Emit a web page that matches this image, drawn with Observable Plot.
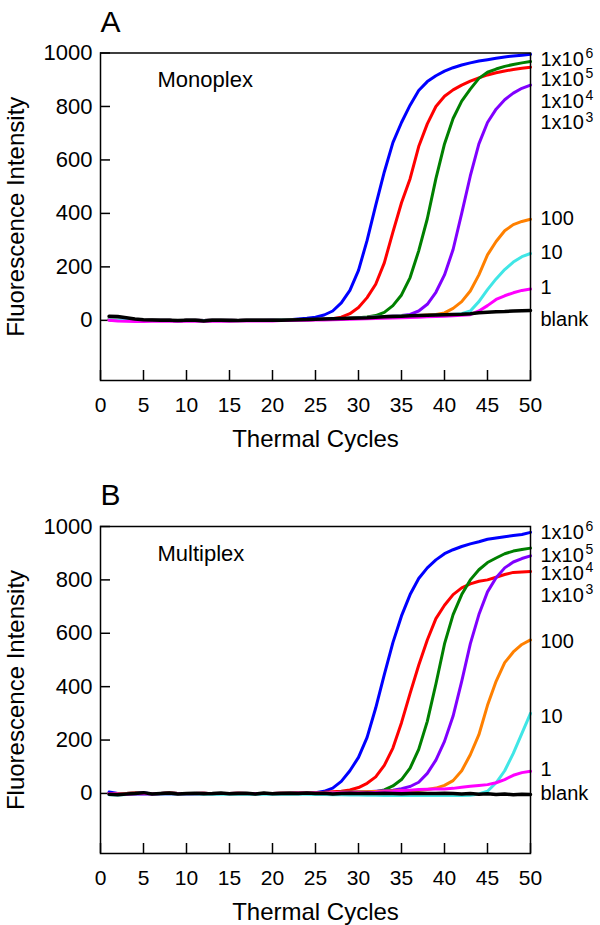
<!DOCTYPE html>
<html>
<head>
<meta charset="utf-8">
<script src="https://cdn.jsdelivr.net/npm/d3@7"></script>
<script src="https://cdn.jsdelivr.net/npm/@observablehq/plot@0.6"></script>
<style>
  body { margin: 0; background: #fff; font-family: "Liberation Sans", Arial, sans-serif; }
  #a, #b { width: 600px; }
  svg { display: block; }
</style>
</head>
<body>
<div id="a"></div>
<div id="b"></div>
<script>
// ---------- DATA ----------
const cycles = [1,2,3,4,5,6,7,8,9,10,11,12,13,14,15,16,17,18,19,20,21,22,23,24,25,26,27,28,29,30,31,32,33,34,35,36,37,38,39,40,41,42,43,44,45,46,47,48,49,50];

const seriesNames = ["1x10^6", "1x10^5", "1x10^4", "1x10^3", "100", "10", "1", "blank"];

// Panel A: Monoplex
const blueA    = [3,1,0,0,-1,0,0,0,-2,0,0,-1,0,0,0,-1,0,0,0,1,1,2,5,8,12,20,35,65,112,187,299,430,555,665,740,805,860,893,915,932,945,955,963,970,975,980,985,989,992,995];
const redA     = [2,1,0,0,-1,0,0,0,-2,0,0,-1,0,0,0,-1,0,0,0,0,1,1,2,2,3,4,6,12,25,48,85,135,215,330,440,530,650,735,800,838,862,880,895,907,918,926,933,938,943,947];
const greenA   = [2,1,0,0,-1,0,0,0,-2,0,0,-1,0,0,0,-1,0,0,0,0,1,1,2,2,3,4,5,6,8,10,13,18,30,55,95,160,260,380,530,660,755,820,865,905,928,940,950,957,963,968];
const purpleA  = [2,1,0,0,-1,0,0,0,-2,0,0,-1,0,0,0,-1,0,0,0,0,1,1,2,2,3,4,5,6,8,10,11,13,14,16,18,22,35,60,105,170,265,400,540,660,740,790,825,850,868,880];
const orangeA  = [2,1,0,0,-1,0,0,0,-2,0,0,-1,0,0,0,-1,0,0,0,0,1,1,2,2,3,4,5,6,8,10,11,13,14,15,16,17,18,20,22,28,45,70,110,170,245,295,335,358,370,378];
const cyanA    = [2,1,0,0,-1,0,0,0,-2,0,0,-1,0,0,0,-1,0,0,0,0,1,1,2,2,3,4,5,6,8,10,11,13,14,15,16,17,18,18,19,20,22,25,35,70,115,155,190,218,238,250];
const magentaA = [0,-2,-3,-4,-4,-3,-3,-3,-3,-3,-3,-3,-3,-3,-3,-2,-2,-2,-2,-2,-1,-1,0,0,1,1,2,3,4,5,6,7,8,9,10,11,12,13,14,15,17,19,21,35,55,78,92,103,112,117];
const blackA   = [15,14,10,5,2,1,0,0,-1,0,0,-2,0,0,-1,-1,0,0,0,0,0,1,2,3,4,5,6,7,8,9,10,12,13,14,15,17,18,19,20,21,22,23,25,28,30,32,33,35,36,37];

// Panel B: Multiplex
const blueB    = [5,0,-3,2,3,-2,0,2,0,-1,0,1,-1,0,0,1,0,-1,0,0,1,1,2,2,3,8,20,45,85,135,210,320,445,565,665,745,805,845,875,898,913,925,935,943,952,957,962,966,970,978];
const redB     = [0,-2,0,2,0,-2,0,2,0,-1,0,1,-1,0,0,1,0,-1,0,0,1,1,2,2,3,4,6,8,13,22,38,62,105,170,265,375,480,575,655,705,745,770,785,795,800,810,820,828,830,831];
const greenB   = [0,-2,0,2,0,-2,0,2,0,-1,0,1,-1,0,0,1,0,-1,0,0,1,1,1,2,2,3,3,4,4,5,5,6,13,28,52,95,165,270,410,560,670,745,800,838,865,882,898,908,914,919];
const purpleB  = [0,-2,0,2,0,-2,0,2,0,-1,0,1,-1,0,0,1,0,-1,0,0,1,1,1,2,2,3,3,4,4,5,6,8,10,12,18,26,42,75,125,195,290,420,560,670,755,808,845,867,880,890];
const orangeB  = [0,-2,0,2,0,-2,0,2,0,-1,0,1,-1,0,0,1,0,-1,0,0,1,1,1,2,2,3,3,4,4,5,6,7,8,9,10,11,12,15,20,30,48,85,145,220,330,420,490,530,558,575];
const cyanB    = [-5,-6,-4,-3,-4,-3,-3,-3,-3,-3,-3,-3,-3,-3,-3,-3,-3,-3,-3,-3,-3,-3,-3,-3,-4,-4,-5,-5,-6,-6,-7,-7,-8,-8,-8,-8,-8,-8,-8,-8,-8,-8,-7,-2,8,40,85,150,225,300];
const magentaB = [0,-2,-3,-2,-2,-2,-1,-1,-1,-1,-1,0,0,0,0,0,0,0,0,0,0,0,1,1,2,2,2,3,3,3,3,4,6,7,10,12,15,16,17,17,19,23,27,30,33,40,52,68,78,83];
const blackB   = [-3,-5,-2,0,3,-2,0,2,-2,0,1,-1,0,2,-1,0,1,-2,2,-1,0,1,0,2,0,1,-2,0,1,0,1,0,1,0,-1,0,1,0,0,1,0,-2,0,-3,-1,-4,-2,-5,-3,-4];

const xTicks = [0,5,10,15,20,25,30,35,40,45,50];
const yTicks = [0,200,400,600,800,1000];

const labelBase = ["1x10","1x10","1x10","1x10","100","10","1","blank"];
const labelExp  = ["6","5","4","3","","","",""];
const labelYA   = [976, 901, 819, 738, 381, 255, 123, 4];
const labelYB   = [976, 890, 822, 742, 567, 287, 90, 0];

// ---------- STYLE ----------
const colors = ["#0000ff", "#ff0000", "#008000", "#8000ff", "#ff8000", "#40e6e6", "#ff00ff", "#000000"];
const FONT = "Liberation Sans, Arial, Helvetica, sans-serif";

function toLong(arrays) {
  const rows = [];
  arrays.forEach((arr, s) => {
    cycles.forEach((c, i) => rows.push({cycle: c, value: arr[i], series: seriesNames[s]}));
  });
  return rows;
}

function panel({arrays, letter, name, labelY, height, marginTop, marginBottom}) {
  const marginLeft = 100, marginRight = 70, width = 600;
  const plotW = width - marginLeft - marginRight;
  const plotH = height - marginTop - marginBottom;
  const data = toLong(arrays);
  const labels = labelBase.map((b, i) => ({base: b, exp: labelExp[i], y: labelY[i]}));
  return Plot.plot({
    width, height, marginLeft, marginRight, marginTop, marginBottom,
    style: {fontFamily: FONT, color: "#000", background: "#fff", overflow: "visible"},
    x: {domain: [0, 50], label: null},
    y: {domain: [-225, 1000], label: null},
    color: {domain: seriesNames, range: colors},
    marks: [
      Plot.axisY(yTicks, {tickSize: 0, tickPadding: 8, fontSize: 22, label: null, tickFormat: d => String(d)}),
      Plot.axisX(xTicks, {tickSize: 0, tickPadding: 17, fontSize: 21, label: null, tickFormat: d => String(d)}),
      Plot.tickY(yTicks, {y: d => d, insetRight: plotW - 10, stroke: "#000", strokeWidth: 1.5}),
      Plot.tickX(xTicks, {x: d => d, insetTop: plotH - 10, stroke: "#000", strokeWidth: 1.5}),
      Plot.line(data.filter(d => d.series !== "blank"), {x: "cycle", y: "value", z: "series", stroke: "series", strokeWidth: 3, strokeLinejoin: "round"}),
      Plot.line(data.filter(d => d.series === "blank"), {x: "cycle", y: "value", stroke: "#000", strokeWidth: 3.5, strokeLinejoin: "round"}),
      Plot.frame({stroke: "#000", strokeWidth: 1.5}),
      Plot.text([name], {frameAnchor: "top-left", dx: 57, dy: 27, textAnchor: "start", lineAnchor: "middle", fontSize: 22, fill: "#000"}),
      Plot.text([letter], {frameAnchor: "top-left", dx: 0, dy: -31, textAnchor: "start", lineAnchor: "middle", fontSize: 30, fill: "#000"}),
      Plot.text(["Fluorescence Intensity"], {frameAnchor: "left", dx: -84, rotate: -90, textAnchor: "middle", lineAnchor: "middle", fontSize: 24, fill: "#000"}),
      Plot.text(["Thermal Cycles"], {frameAnchor: "bottom", dy: 59, textAnchor: "middle", lineAnchor: "middle", fontSize: 24, fill: "#000"}),
      Plot.text(labels, {x: () => 50, y: "y", text: "base", dx: 10, textAnchor: "start", lineAnchor: "middle", fontSize: 20, fill: "#000"}),
      Plot.text(labels.filter(d => d.exp), {x: () => 50, y: "y", text: "exp", dx: 55, dy: -6, textAnchor: "start", lineAnchor: "middle", fontSize: 14, fill: "#000"})
    ]
  });
}

document.getElementById("a").appendChild(panel({
  arrays: [blueA, redA, greenA, purpleA, orangeA, cyanA, magentaA, blackA],
  letter: "A", name: "Monoplex", labelY: labelYA,
  height: 473, marginTop: 52.5, marginBottom: 93
}));
document.getElementById("b").appendChild(panel({
  arrays: [blueB, redB, greenB, purpleB, orangeB, cyanB, magentaB, blackB],
  letter: "B", name: "Multiplex", labelY: labelYB,
  height: 452, marginTop: 53, marginBottom: 72
}));
</script>
</body>
</html>
